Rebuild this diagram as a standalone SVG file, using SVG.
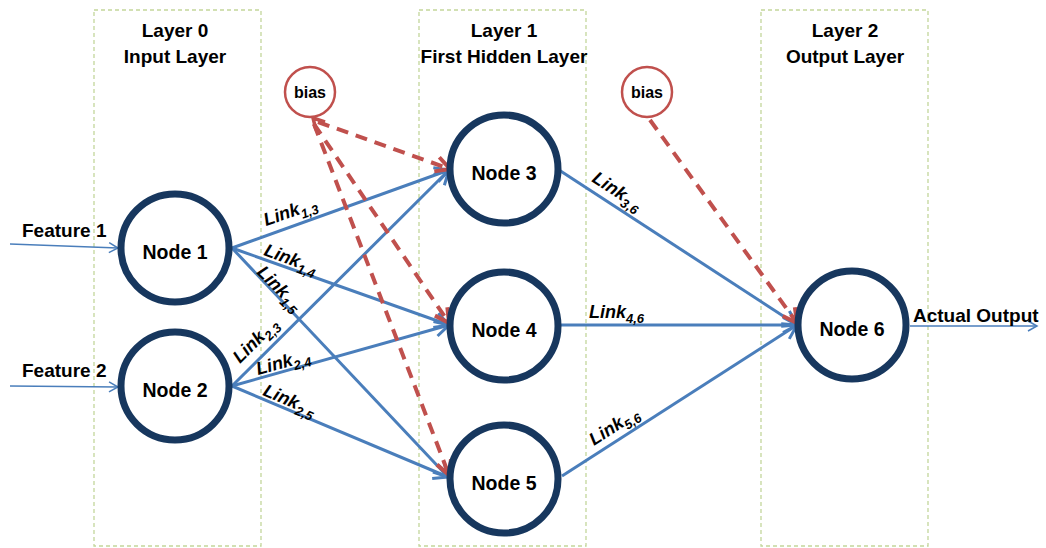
<svg xmlns="http://www.w3.org/2000/svg" width="1046" height="548" viewBox="0 0 1046 548">
  <style>
    .layer { fill: none; stroke: #c3d69b; stroke-width: 1.3; stroke-dasharray: 4 3; }
    .title { font-family: "Liberation Sans", Arial, sans-serif; font-weight: bold; font-size: 19px; fill: #000; text-anchor: middle; }
    .node circle { fill: #fff; stroke: #17375e; stroke-width: 7; }
    .node text { font-family: "Liberation Sans", Arial, sans-serif; font-weight: bold; font-size: 19.5px; fill: #000; text-anchor: middle; }
    .bias circle { fill: #fff; stroke: #c0504d; stroke-width: 2.5; }
    .bias text { font-family: "Liberation Sans", Arial, sans-serif; font-weight: bold; font-size: 16px; fill: #000; text-anchor: middle; }
    .link { stroke: #4a7ebb; stroke-width: 3; fill: none; marker-end: url(#arrowBlue); }
    .io { stroke: #4a7ebb; stroke-width: 1.5; fill: none; marker-end: url(#arrowThin); }
    .biasLink { stroke: #c0504d; stroke-width: 4; stroke-dasharray: 12 8; fill: none; marker-end: url(#arrowRed); }
    .lbl { font-family: "Liberation Sans", Arial, sans-serif; font-weight: bold; font-style: italic; font-size: 18px; fill: #000; }
    .sub { font-size: 13px; }
    .io-text { font-family: "Liberation Sans", Arial, sans-serif; font-weight: bold; font-size: 19px; fill: #000; }
  </style>
  <defs>
    <marker id="arrowBlue" markerUnits="userSpaceOnUse" markerWidth="30" markerHeight="30" viewBox="-20 -15 30 30" refX="0" refY="0" orient="auto">
      <path d="M-14,-7.5 L0,0 L-14,7.5" fill="none" stroke="#4a7ebb" stroke-width="3"/>
    </marker>
    <marker id="arrowThin" markerUnits="userSpaceOnUse" markerWidth="20" markerHeight="20" viewBox="-15 -10 20 20" refX="0" refY="0" orient="auto">
      <path d="M-9,-5 L0,0 L-9,5" fill="none" stroke="#4a7ebb" stroke-width="1.5"/>
    </marker>
    <marker id="arrowRed" markerUnits="userSpaceOnUse" markerWidth="30" markerHeight="30" viewBox="-20 -15 30 30" refX="0" refY="0" orient="auto">
      <path d="M-14,-7.5 L0,0 L-14,7.5" fill="none" stroke="#c0504d" stroke-width="4"/>
    </marker>
  </defs>

  <rect width="1046" height="548" fill="#fff"/>

  <!-- layer frames and headings -->
  <g id="layer0">
    <rect class="layer" x="94" y="10" width="167" height="536"/>
    <text class="title" x="175" y="37">Layer 0</text>
    <text class="title" x="175" y="63">Input Layer</text>
  </g>
  <g id="layer1">
    <rect class="layer" x="419" y="10" width="167" height="536"/>
    <text class="title" x="504" y="37">Layer 1</text>
    <text class="title" x="504" y="63">First Hidden Layer</text>
  </g>
  <g id="layer2">
    <rect class="layer" x="761" y="10" width="167" height="536"/>
    <text class="title" x="845" y="37">Layer 2</text>
    <text class="title" x="845" y="63">Output Layer</text>
  </g>

  <!-- connectors -->
  <g id="connectors">
    <line class="io" x1="10" y1="244" x2="118" y2="248"/>
    <line class="io" x1="10" y1="386" x2="118" y2="387"/>
    <line class="io" x1="910" y1="326" x2="1037" y2="326"/>

    <line class="link" x1="232" y1="248" x2="449" y2="170"/>
    <line class="link" x1="232" y1="248" x2="449" y2="325"/>
    <line class="link" x1="232" y1="248" x2="448" y2="477"/>
    <line class="link" x1="232" y1="386" x2="449" y2="170"/>
    <line class="link" x1="232" y1="386" x2="449" y2="325"/>
    <line class="link" x1="232" y1="386" x2="448" y2="477"/>
    <line class="link" x1="559" y1="170" x2="797" y2="325"/>
    <line class="link" x1="561" y1="325" x2="797" y2="325"/>
    <line class="link" x1="562" y1="476" x2="797" y2="325"/>

    <line class="biasLink" x1="318" y1="122" x2="450" y2="169"/>
    <line class="biasLink" x1="314" y1="124" x2="449" y2="323"/>
    <line class="biasLink" x1="314" y1="124" x2="449" y2="475"/>
    <path d="M325,122 L313,118 L316,130" fill="none" stroke="#c0504d" stroke-width="3.5"/>
    <line class="biasLink" x1="650" y1="120" x2="797" y2="323"/>
  </g>

  <!-- link labels -->
  <g id="labels">
    <text class="lbl" transform="translate(266,226) rotate(-19)">Link<tspan class="sub" dy="5">1,3</tspan></text>
    <text class="lbl" transform="translate(263,255) rotate(20)">Link<tspan class="sub" dy="5">1,4</tspan></text>
    <text class="lbl" transform="translate(256,273) rotate(45)">Link<tspan class="sub" dy="5">1,5</tspan></text>
    <text class="lbl" transform="translate(240,364) rotate(-45)">Link<tspan class="sub" dy="5">2,3</tspan></text>
    <text class="lbl" transform="translate(258,375) rotate(-15)">Link<tspan class="sub" dy="5">2,4</tspan></text>
    <text class="lbl" transform="translate(262,395) rotate(23)">Link<tspan class="sub" dy="5">2,5</tspan></text>
    <text class="lbl" transform="translate(591,181) rotate(33)">Link<tspan class="sub" dy="5">3,6</tspan></text>
    <text class="lbl" transform="translate(589,318)">Link<tspan class="sub" dy="5">4,6</tspan></text>
    <text class="lbl" transform="translate(594,446) rotate(-33)">Link<tspan class="sub" dy="5">5,6</tspan></text>
  </g>

  <!-- input / output captions -->
  <g id="io-labels">
    <text class="io-text" x="22" y="237">Feature 1</text>
    <text class="io-text" x="22" y="377">Feature 2</text>
    <text class="io-text" x="913" y="322">Actual Output</text>
  </g>

  <!-- neurons -->
  <g id="node1" class="node"><circle cx="175" cy="248" r="54"/><text x="175" y="259">Node 1</text></g>
  <g id="node2" class="node"><circle cx="175" cy="386" r="54"/><text x="175" y="397">Node 2</text></g>
  <g id="node3" class="node"><circle cx="504" cy="169" r="54"/><text x="504" y="180">Node 3</text></g>
  <g id="node4" class="node"><circle cx="504" cy="326" r="54"/><text x="504" y="337">Node 4</text></g>
  <g id="node5" class="node"><circle cx="504" cy="479" r="54"/><text x="504" y="490">Node 5</text></g>
  <g id="node6" class="node"><circle cx="852" cy="325" r="54"/><text x="852" y="336">Node 6</text></g>

  <!-- bias units -->
  <g id="bias1" class="bias"><circle cx="310" cy="92" r="25"/><text x="310" y="98">bias</text></g>
  <g id="bias2" class="bias"><circle cx="647" cy="92" r="25"/><text x="647" y="98">bias</text></g>
</svg>
